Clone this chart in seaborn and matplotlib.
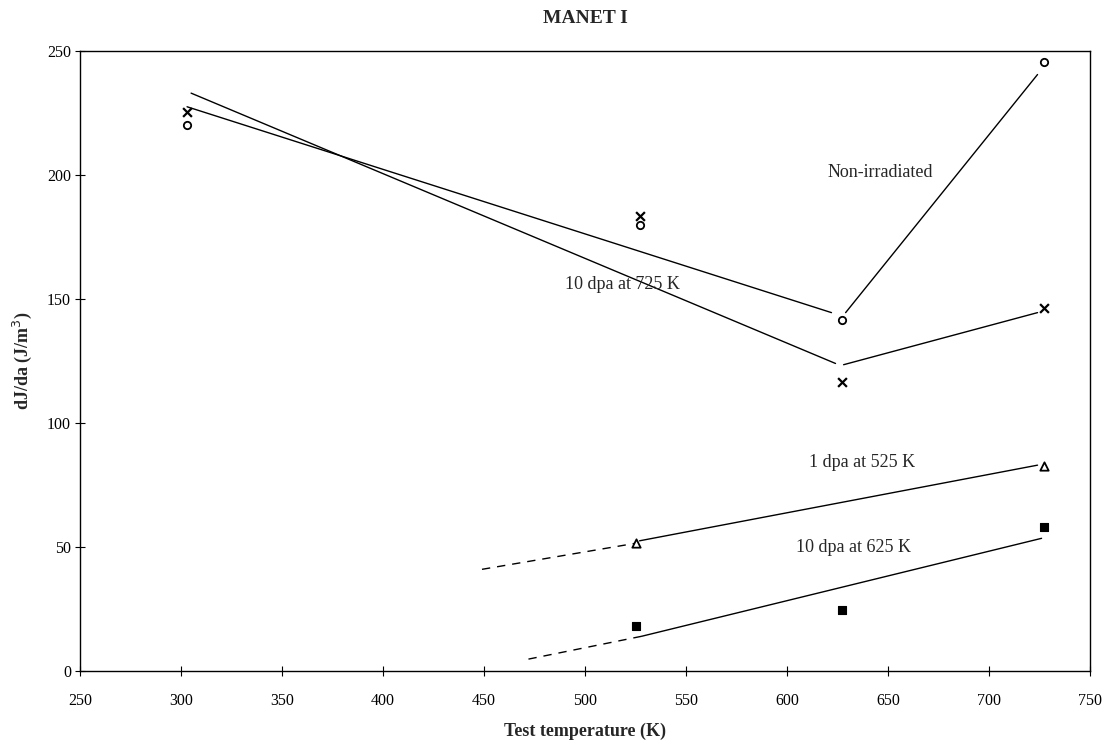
import matplotlib
matplotlib.use("Agg")
import matplotlib.pyplot as plt
import seaborn as sns

# Measured tearing modulus values, J/m^3, at each test temperature (K)
non_irr_T = [303, 527, 627, 727]
non_irr_v = [220, 180, 141.5, 245.5]

dpa10_725_T = [303, 527, 627, 727]
dpa10_725_v = [225.5, 183.5, 116.5, 146.5]

dpa1_525_T = [525, 727]
dpa1_525_v = [51.5, 82.5]

dpa10_625_T = [525, 627, 727]
dpa10_625_v = [18, 24.5, 58]

# Trend lines (solid parts) and extrapolations (dashed parts)
non_irr_fit_a_T = [303, 622]
non_irr_fit_a_v = [227.5, 144.5]
non_irr_fit_b_T = [629, 724]
non_irr_fit_b_v = [144.5, 240.5]

dpa10_725_fit_a_T = [305, 624]
dpa10_725_fit_a_v = [233, 124]
dpa10_725_fit_b_T = [628, 724]
dpa10_725_fit_b_v = [123.5, 144.5]

dpa1_525_fit_T = [527, 724]
dpa1_525_fit_v = [52.5, 83]
dpa1_525_ext_T = [449, 525]
dpa1_525_ext_v = [41, 51.5]

dpa10_625_fit_T = [528, 726]
dpa10_625_fit_v = [14, 53.5]
dpa10_625_ext_T = [472, 528]
dpa10_625_ext_v = [4.8, 14]

x_ticks = [250, 300, 350, 400, 450, 500, 550, 600, 650, 700, 750]
y_ticks = [0, 50, 100, 150, 200, 250]

sns.set_theme(style="white")
plt.rcParams["font.family"] = ["Liberation Serif", "DejaVu Serif"]

fig = plt.figure(figsize=(11.08, 7.44), dpi=100)
ax = fig.add_axes([0.0722, 0.0981, 0.9116, 0.8334])


def line(T, v, dashed=False):
    sns.lineplot(x=T, y=v, ax=ax, color="black", lw=1.0, sort=False,
                 linestyle=(0, (6, 5)) if dashed else "-")


line(non_irr_fit_a_T, non_irr_fit_a_v)
line(non_irr_fit_b_T, non_irr_fit_b_v)
line(dpa10_725_fit_a_T, dpa10_725_fit_a_v)
line(dpa10_725_fit_b_T, dpa10_725_fit_b_v)
line(dpa1_525_fit_T, dpa1_525_fit_v)
line(dpa1_525_ext_T, dpa1_525_ext_v, dashed=True)
line(dpa10_625_fit_T, dpa10_625_fit_v)
line(dpa10_625_ext_T, dpa10_625_ext_v, dashed=True)

sns.scatterplot(x=non_irr_T, y=non_irr_v, ax=ax, marker="o", s=28,
                facecolor="white", edgecolor="black", linewidth=1.3, zorder=5)
sns.scatterplot(x=dpa10_725_T, y=dpa10_725_v, ax=ax, marker="x", s=40,
                color="black", linewidth=1.6, zorder=5)
sns.scatterplot(x=dpa1_525_T, y=dpa1_525_v, ax=ax, marker="^", s=36,
                facecolor="white", edgecolor="black", linewidth=1.3, zorder=5)
sns.scatterplot(x=dpa10_625_T, y=dpa10_625_v, ax=ax, marker="s", s=30,
                color="black", edgecolor="black", linewidth=0.8, zorder=5)

ax.text(620, 201, "Non-irradiated", fontsize=13, va="center", ha="left")
ax.text(490, 156, "10 dpa at 725 K", fontsize=13, va="center", ha="left")
ax.text(611, 84, "1 dpa at 525 K", fontsize=13, va="center", ha="left")
ax.text(604.5, 50, "10 dpa at 625 K", fontsize=13, va="center", ha="left")

ax.set_xlim(250, 750)
ax.set_ylim(0, 250)
ax.set_xticks(x_ticks)
ax.set_yticks(y_ticks)
ax.tick_params(direction="inout", length=7, width=0.8, labelsize=11.5,
               colors="black", bottom=True, left=True)
ax.tick_params(axis="x", pad=12)
ax.tick_params(axis="y", pad=3)
for s in ax.spines.values():
    s.set_color("black")
    s.set_linewidth(1.0)
ax.grid(False)

ax.set_title("MANET I", fontsize=14, fontweight="bold", pad=20)
ax.set_xlabel("Test temperature (K)", fontsize=13, fontweight="bold", labelpad=10)
ax.set_ylabel("dJ/da (J/m$^3$)", fontsize=13, fontweight="bold", labelpad=9)

fig.savefig("out.png", dpi=100, facecolor="white")
